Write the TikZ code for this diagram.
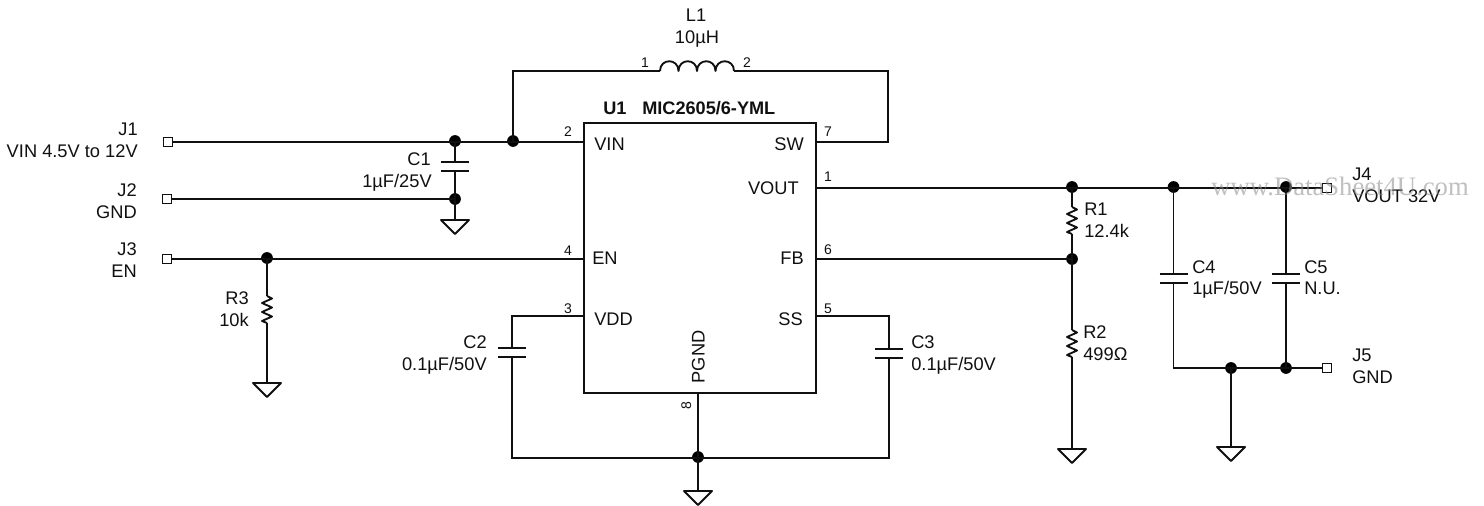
\documentclass[tikz,border=0pt]{standalone}
\usepackage{fontspec}
\setmainfont{Liberation Sans}
\newfontfamily\wmfont{Liberation Serif}
\definecolor{ink}{HTML}{101010}
\tikzset{
  x=0.75pt,y=-0.75pt,
  wire/.style={draw=ink,line width=1.4pt,line join=miter},
  dotnode/.style={circle,fill=black,inner sep=0pt,minimum size=8.8pt},
  term/.style={rectangle,draw=ink,fill=white,line width=1.2pt,inner sep=0pt,minimum size=6.6pt},
  lbl/.style={inner sep=0pt,text=ink,font=\fontsize{13.7pt}{15pt}\selectfont,text height=9.8pt,text depth=0pt},
  lblb/.style={lbl,font=\fontsize{13.6pt}{15pt}\selectfont\bfseries},
  pinnum/.style={inner sep=0pt,text=ink,font=\fontsize{10.5pt}{12pt}\selectfont,text height=7.5pt,text depth=0pt},
  plate/.style={draw=ink,line width=1.4pt},
  gndsym/.pic={\draw[wire,line join=round] (-14,0) -- (14,0) -- (0,14) -- cycle;},
  capsym/.pic={\draw[plate] (-14,0) -- (14,0) (-14,9) -- (14,9);},
  ressym/.pic={\draw[wire,line join=round] (0,0) -- (5,2.5) -- (-5,7) -- (5,11.5) -- (-5,16) -- (5,20.5) -- (-5,25) -- (0,27);},
  coilsym/.pic={\draw[wire,line join=round] (0,0)
    .. controls (0,-13) and (18.5,-13) .. (18.5,0)
    .. controls (18.5,-13) and (37,-13) .. (37,0)
    .. controls (37,-13) and (55.5,-13) .. (55.5,0)
    .. controls (55.5,-13) and (74,-13) .. (74,0);}
}
\begin{document}
\begin{tikzpicture}
\useasboundingbox (0,0) rectangle (1484,506);
% --- coordinates
\coordinate (pVIN) at (584,142); \coordinate (pSW) at (816,142);
\coordinate (pVOUT) at (816,188); \coordinate (pEN) at (584,259);
\coordinate (pFB) at (816,259); \coordinate (pVDD) at (584,316);
\coordinate (pSS) at (816,316); \coordinate (pPG) at (698,393);
\coordinate (c1a) at (455,162); \coordinate (c1b) at (455,171);
\coordinate (g1) at (455,220);
\coordinate (r3a) at (267,296); \coordinate (r3b) at (267,323); \coordinate (g3) at (267,383);
\coordinate (la) at (660,71); \coordinate (lb) at (734,71);
\coordinate (ltl) at (513,71); \coordinate (ltr) at (888,71); \coordinate (lbr) at (888,142);
\coordinate (c2t) at (512,316); \coordinate (c2a) at (512,348); \coordinate (c2b) at (512,357); \coordinate (c2e) at (512,458);
\coordinate (c3t) at (889,316); \coordinate (c3a) at (889,349); \coordinate (c3b) at (889,358); \coordinate (c3e) at (889,458);
\coordinate (g8) at (698,491);
\coordinate (r1a) at (1072,207); \coordinate (r1b) at (1072,234);
\coordinate (r2a) at (1072,330); \coordinate (r2b) at (1072,357); \coordinate (g2) at (1072,449);
\coordinate (c4a) at (1173.5,274); \coordinate (c4b) at (1173.5,283); \coordinate (c4e) at (1173.5,368);
\coordinate (c5a) at (1286,274); \coordinate (c5b) at (1286,283);
\coordinate (g4) at (1231,447);
% --- U1 box
\node[rectangle,draw=ink,line width=1.4pt,minimum width=174pt,minimum height=202.5pt,inner sep=0pt] (U1) at (700,258) {};
% --- junctions
\node[dotnode] (d1) at (455,141) {};
\node[dotnode] (d2) at (455,199) {};
\node[dotnode] (d3) at (513,141) {};
\node[dotnode] (d4) at (267,258) {};
\node[dotnode] (d5) at (698,457) {};
\node[dotnode] (d6) at (1072,187) {};
\node[dotnode] (d7) at (1072,259) {};
\node[dotnode] (d8) at (1173.5,187) {};
\node[dotnode] (d9) at (1286,187) {};
\node[dotnode] (d10) at (1231,368) {};
\node[dotnode] (d11) at (1286,368) {};
% --- wires (drawn beneath terminals)
\coordinate (tJ1) at (168,142); \coordinate (tJ2) at (167,199); \coordinate (tJ3) at (167,259);
\coordinate (tJ4) at (1327,188); \coordinate (tJ5) at (1327,368);
\draw[wire] (tJ1) -- (pVIN);
\draw[wire] (tJ2) -- (d2.center);
\draw[wire] (tJ3) -- (pEN);
\draw[wire] (d1.center) -- (c1a);
\draw[wire] (c1b) -- (d2.center) -- (g1);
\draw[wire] (d4.center) -- (r3a);
\draw[wire] (r3b) -- (g3);
\draw[wire] (d3.center) -- (ltl) -- (la);
\draw[wire] (lb) -- (ltr) -- (lbr) -- (pSW);
\draw[wire] (pVDD) -- (c2t) -- (c2a);
\draw[wire] (c2b) -- (c2e) -- (c3e) -- (c3b);
\draw[wire] (c3a) -- (c3t) -- (pSS);
\draw[wire] (pPG) -- (g8);
\draw[wire] (pVOUT) -- (tJ4);
\draw[wire] (pFB) -- (d7.center);
\draw[wire] (d6.center) -- (r1a);
\draw[wire] (r1b) -- (d7.center) -- (r2a);
\draw[wire] (r2b) -- (g2);
\draw[wire] (d8.center) -- (c4a);
\draw[wire] (c4b) -- (c4e) -- (tJ5);
\draw[wire] (d9.center) -- (c5a);
\draw[wire] (c5b) -- (d11.center);
\draw[wire] (d10.center) -- (g4);
% --- symbols
\pic at (c1a) {capsym}; \pic at (c2a) {capsym}; \pic at (c3a) {capsym};
\pic at (c4a) {capsym}; \pic at (c5a) {capsym};
\pic at (r3a) {ressym}; \pic at (r1a) {ressym}; \pic at (r2a) {ressym};
\pic at (la) {coilsym};
\pic at (g1) {gndsym}; \pic at (g3) {gndsym}; \pic at (g8) {gndsym};
\pic at (g2) {gndsym}; \pic at (g4) {gndsym};
% --- terminals
\node[term] (J1t) at (tJ1) {};
\node[term] (J2t) at (tJ2) {};
\node[term] (J3t) at (tJ3) {};
\node[term] (J4t) at (tJ4) {};
\node[term] (J5t) at (tJ5) {};
% --- labels
\node[lbl,anchor=east] (tJ1a) at (138,129) {J1};
\node[lbl,anchor=east] (tJ1b) at (138,151) {VIN 4.5V to 12V};
\node[lbl,anchor=east] (tJ2a) at (137,190) {J2};
\node[lbl,anchor=east] (tJ2b) at (137,212) {GND};
\node[lbl,anchor=east] (tJ3a) at (137,249) {J3};
\node[lbl,anchor=east] (tJ3b) at (137,271) {EN};
\node[lbl,anchor=east] (tC1a) at (431,159) {C1};
\node[lbl,anchor=east] (tC1b) at (432,181) {1µF/25V};
\node[lbl,anchor=east] (tR3a) at (249,298) {R3};
\node[lbl,anchor=east] (tR3b) at (249,320) {10k};
\node[lbl,anchor=east] (tC2a) at (487,342) {C2};
\node[lbl,anchor=east] (tC2b) at (487,364) {0.1µF/50V};
\node[lbl] (tL1a) at (696,15) {L1};
\node[lbl] (tL1b) at (697,37) {10µH};
\node[lblb,anchor=west] (tU1a) at (603,108) {U1};
\node[lblb,anchor=west] (tU1b) at (642,108) {MIC2605/6-YML};
\node[lbl,anchor=west] (nVIN) at (594,144) {VIN};
\node[lbl,anchor=east] (nSW) at (804,144) {SW};
\node[lbl,anchor=east] (nVOUT) at (799,188) {VOUT};
\node[lbl,anchor=west] (nEN) at (592,258) {EN};
\node[lbl,anchor=east] (nFB) at (804,258) {FB};
\node[lbl,anchor=west] (nVDD) at (594,319) {VDD};
\node[lbl,anchor=east] (nSS) at (803,319) {SS};
\node[lbl,rotate=90] (nPG) at (698,357) {PGND};
\node[pinnum] (n2) at (568,132) {2};
\node[pinnum] (n7) at (828,132) {7};
\node[pinnum] (n1) at (828,176) {1};
\node[pinnum] (n4) at (568,250) {4};
\node[pinnum] (n6) at (828,249) {6};
\node[pinnum] (n3) at (568,308) {3};
\node[pinnum] (n5) at (828,308) {5};
\node[pinnum,rotate=90] (n8) at (686,406) {8};
\node[pinnum] (nL1) at (645,63) {1};
\node[pinnum] (nL2) at (747,63) {2};
\node[lbl,anchor=west] (tR1a) at (1084,209) {R1};
\node[lbl,anchor=west] (tR1b) at (1084,231) {12.4k};
\node[lbl,anchor=west] (tR2a) at (1083,332) {R2};
\node[lbl,anchor=west] (tR2b) at (1083,354) {499Ω};
\node[lbl,anchor=west] (tC4a) at (1192,267) {C4};
\node[lbl,anchor=west] (tC4b) at (1192,288) {1µF/50V};
\node[lbl,anchor=west] (tC5a) at (1304,267) {C5};
\node[lbl,anchor=west] (tC5b) at (1304,288) {N.U.};
\node[lbl,anchor=west] (tC3a) at (911,342) {C3};
\node[lbl,anchor=west] (tC3b) at (911,364) {0.1µF/50V};
\node[lbl,anchor=west] (tJ4a) at (1352,174) {J4};
\node[lbl,anchor=west] (tJ4b) at (1352,196) {VOUT 32V};
\node[lbl,anchor=west] (tJ5a) at (1352,355) {J5};
\node[lbl,anchor=west] (tJ5b) at (1352,377) {GND};
% --- watermark
\node[anchor=center,inner sep=0pt,text=black!45,opacity=0.55,font=\wmfont\fontsize{20pt}{21pt}\selectfont,text height=13pt,text depth=0pt] (wm) at (1340,187) {www.DataSheet4U.com};
\end{tikzpicture}
\end{document}
